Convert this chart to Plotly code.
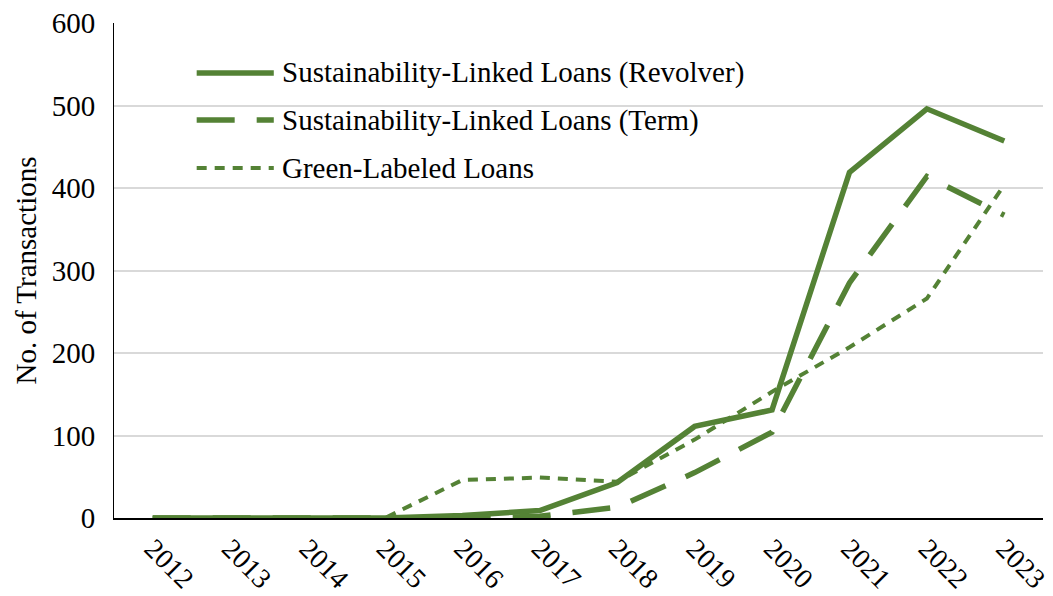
import plotly.graph_objects as go

years = ["2012", "2013", "2014", "2015", "2016", "2017", "2018", "2019", "2020", "2021", "2022", "2023"]
revolver = [0, 0, 0, 0, 3, 9, 43, 111, 131, 419, 496, 457]
term = [0, 0, 0, 0, 0, 2, 13, 55, 104, 285, 414, 367]
green = [0, 0, 0, 0, 46, 49, 44, 95, 153, 207, 266, 404]

names = ["Sustainability-Linked Loans (Revolver)",
         "Sustainability-Linked Loans (Term)",
         "Green-Labeled Loans"]

GREEN = "#548235"
FONT = "Liberation Serif"
FS = 29

styles = [
    dict(width=5.5, dash="solid"),
    dict(width=5.5, dash="38px,22px"),
    dict(width=4, dash="10px,8px"),
]

fig = go.Figure()
for vals, name, st in zip([revolver, term, green], names, styles):
    fig.add_trace(go.Scatter(
        x=years, y=vals, mode="lines", name=name,
        line=dict(color=GREEN, width=st["width"], dash=st["dash"]),
        showlegend=False,
    ))

# manual legend (samples + text) in paper coordinates
leg_y = [0.899, 0.804, 0.707]
for name, st, yy in zip(names, styles, leg_y):
    fig.add_shape(type="line", xref="paper", yref="paper",
                  x0=0.089, x1=0.172, y0=yy, y1=yy,
                  line=dict(color=GREEN, width=st["width"], dash=st["dash"]))
    fig.add_annotation(xref="paper", yref="paper", x=0.179, y=yy,
                       text=name, showarrow=False, xanchor="left", yanchor="middle",
                       font=dict(family=FONT, size=FS, color="black"))

fig.update_layout(
    width=1053, height=596,
    margin=dict(l=114, r=10, t=23, b=78),
    paper_bgcolor="white", plot_bgcolor="white",
    font=dict(family=FONT, size=FS, color="black"),
)
fig.update_xaxes(
    type="category", tickangle=45, range=[-0.5, 11.5],
    showline=True, linecolor="black", linewidth=2,
    showgrid=False, ticks="", tickfont=dict(family=FONT, size=28),
    ticklabelstandoff=1, automargin=False,
)
fig.update_yaxes(
    range=[0, 600], dtick=100, tick0=0,
    showline=True, linecolor="black", linewidth=1,
    showgrid=True, gridcolor="#d9d9d9", gridwidth=2,
    zeroline=False, ticks="",
    tickfont=dict(family=FONT, size=FS),
    ticklabelstandoff=12, automargin=False,
    title=dict(text="No. of Transactions", font=dict(family=FONT, size=FS), standoff=6),
)

fig.write_html("out.html")
